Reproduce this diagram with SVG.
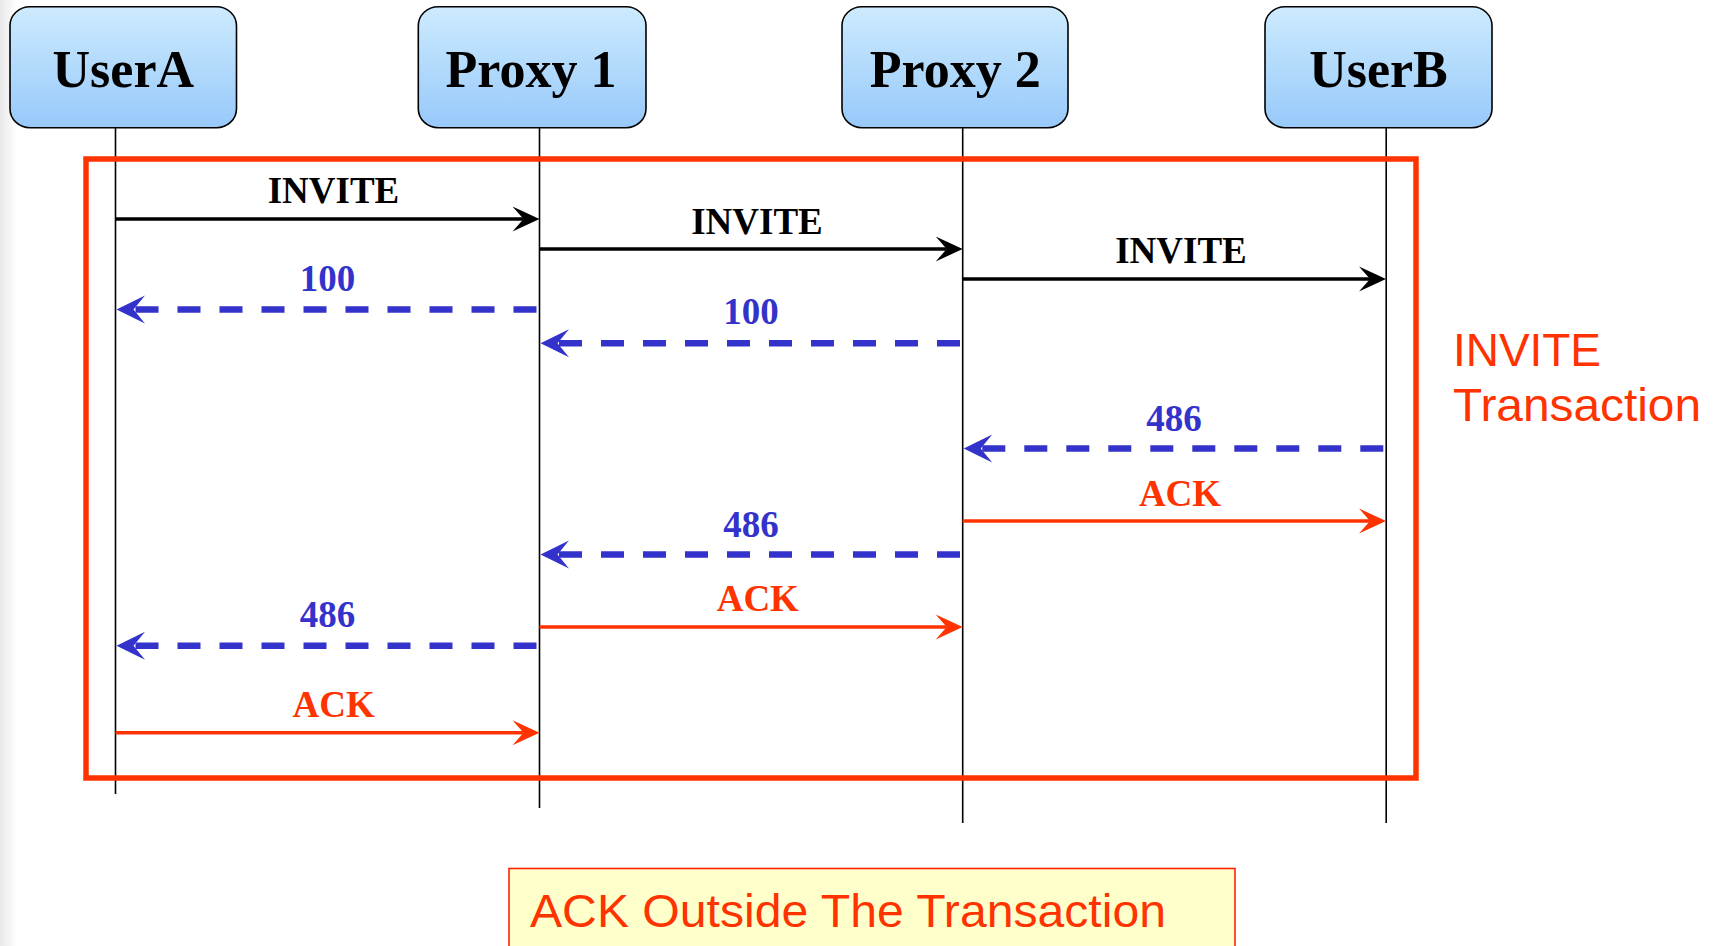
<svg xmlns="http://www.w3.org/2000/svg" width="1714" height="946" viewBox="0 0 1714 946">
  <defs>
    <linearGradient id="boxFill" x1="0" y1="0" x2="0" y2="1">
      <stop offset="0" stop-color="#CDEBFE"/>
      <stop offset="1" stop-color="#97C9FA"/>
    </linearGradient>
    <linearGradient id="edgeShade" x1="0" y1="0" x2="1" y2="0">
      <stop offset="0" stop-color="#E8E8E8"/>
      <stop offset="1" stop-color="#FFFFFF"/>
    </linearGradient>
    <!-- arrowheads: (0,0) is the notch where the shaft ends -->
    <marker id="headBlack" markerUnits="userSpaceOnUse" orient="auto" refX="0" refY="0" markerWidth="40" markerHeight="40" viewBox="-15 -20 40 40" overflow="visible">
      <path d="M16,0 L-11,-12.5 L0,0 L-11,12.5 Z" fill="#000000"/>
    </marker>
    <marker id="headRed" markerUnits="userSpaceOnUse" orient="auto" refX="0" refY="0" markerWidth="40" markerHeight="40" viewBox="-15 -20 40 40" overflow="visible">
      <path d="M16,0 L-11,-12.5 L0,0 L-11,12.5 Z" fill="#FF3300"/>
    </marker>
    <marker id="headBlue" markerUnits="userSpaceOnUse" orient="auto" refX="0" refY="0" markerWidth="40" markerHeight="40" viewBox="-15 -20 40 40" overflow="visible">
      <path d="M17,0 L-11.5,-14 L0,0 L-11.5,14 Z" fill="#3333CC"/>
    </marker>
  </defs>
  <style>
    .box { fill: url(#boxFill); stroke: #000000; stroke-width: 1.6; }
    .boxText { font-family: "Liberation Serif", "Times New Roman", serif; font-weight: bold; font-size: 52px; fill: #000000; text-anchor: middle; }
    .life { stroke: #000000; stroke-width: 1.6; }
    .req { stroke: #000000; stroke-width: 3.5; fill: none; marker-end: url(#headBlack); }
    .ack { stroke: #FF3300; stroke-width: 3.5; fill: none; marker-end: url(#headRed); }
    .rsp { stroke: #3333CC; stroke-width: 6.5; fill: none; stroke-dasharray: 23 19; marker-end: url(#headBlue); }
    .lbl { font-family: "Liberation Serif", "Times New Roman", serif; font-weight: bold; font-size: 37px; text-anchor: middle; }
    .lblReq { fill: #000000; }
    .lblRsp { fill: #3333CC; }
    .lblAck { fill: #FF3300; }
    .note { font-family: "Liberation Sans", Arial, sans-serif; font-size: 47px; fill: #FF3300; }
  </style>

  <rect x="0" y="0" width="1714" height="946" fill="#FFFFFF"/>
  <rect x="0" y="0" width="17" height="946" fill="url(#edgeShade)"/>

  <!-- lifelines -->
  <g id="lifelines">
    <line class="life" x1="115.5" y1="127" x2="115.5" y2="794"/>
    <line class="life" x1="539.5" y1="127" x2="539.5" y2="808"/>
    <line class="life" x1="962.7" y1="127" x2="962.7" y2="823"/>
    <line class="life" x1="1386.2" y1="127" x2="1386.2" y2="823"/>
  </g>

  <!-- participants -->
  <g id="userA">
    <rect class="box" x="10" y="6.7" width="226.5" height="121" rx="20" ry="19"/>
    <text class="boxText" x="123.3" y="87.3">UserA</text>
  </g>
  <g id="proxy1">
    <rect class="box" x="418.3" y="6.7" width="227.7" height="121" rx="20" ry="19"/>
    <text class="boxText" x="531" y="87.3">Proxy 1</text>
  </g>
  <g id="proxy2">
    <rect class="box" x="842" y="6.7" width="226" height="121" rx="20" ry="19"/>
    <text class="boxText" x="955.2" y="87.3">Proxy 2</text>
  </g>
  <g id="userB">
    <rect class="box" x="1265" y="6.7" width="227" height="121" rx="20" ry="19"/>
    <text class="boxText" x="1378.5" y="87.3">UserB</text>
  </g>

  <!-- INVITE transaction frame -->
  <g id="transaction">
    <rect x="86" y="159" width="1330" height="619" fill="none" stroke="#FF3300" stroke-width="5.5"/>
    <text class="note" x="1453" y="365.7" textLength="148" lengthAdjust="spacingAndGlyphs">INVITE</text>
    <text class="note" x="1453" y="421" textLength="248" lengthAdjust="spacingAndGlyphs">Transaction</text>
  </g>

  <!-- messages -->
  <g id="connectors">
    <line class="req" x1="115.5" y1="219" x2="523.5" y2="219"/>
    <line class="req" x1="539.5" y1="249" x2="946.7" y2="249"/>
    <line class="req" x1="962.7" y1="279" x2="1370" y2="279"/>

    <line class="rsp" x1="536.5" y1="309.5" x2="133.5" y2="309.5"/>
    <line class="rsp" x1="960" y1="343.3" x2="557.5" y2="343.3"/>
    <line class="rsp" x1="1383.3" y1="448.6" x2="980.7" y2="448.6"/>

    <line class="ack" x1="962.7" y1="521" x2="1370" y2="521"/>
    <line class="rsp" x1="960" y1="554.5" x2="557.5" y2="554.5"/>
    <line class="ack" x1="539.5" y1="627" x2="946.7" y2="627"/>
    <line class="rsp" x1="536.5" y1="645.7" x2="133.5" y2="645.7"/>
    <line class="ack" x1="115.5" y1="732.7" x2="523.5" y2="732.7"/>
  </g>

  <g id="labels">
    <text class="lbl lblReq" x="333.5" y="203.3">INVITE</text>
    <text class="lbl lblReq" x="757" y="234">INVITE</text>
    <text class="lbl lblReq" x="1181" y="263.3">INVITE</text>
    <text class="lbl lblRsp" x="327.6" y="291">100</text>
    <text class="lbl lblRsp" x="751" y="324">100</text>
    <text class="lbl lblRsp" x="1174" y="430.5">486</text>
    <text class="lbl lblAck" x="1180" y="505.6">ACK</text>
    <text class="lbl lblRsp" x="751" y="537.3">486</text>
    <text class="lbl lblAck" x="757.8" y="611">ACK</text>
    <text class="lbl lblRsp" x="327.5" y="626.7">486</text>
    <text class="lbl lblAck" x="333.7" y="717.3">ACK</text>
  </g>

  <!-- callout below the diagram -->
  <g id="ackNote">
    <rect x="509" y="868.5" width="726" height="90" fill="#FFFFCC" stroke="#FF2200" stroke-width="1.6"/>
    <text class="note" x="530" y="926.5" textLength="636" lengthAdjust="spacingAndGlyphs">ACK Outside The Transaction</text>
  </g>
</svg>
